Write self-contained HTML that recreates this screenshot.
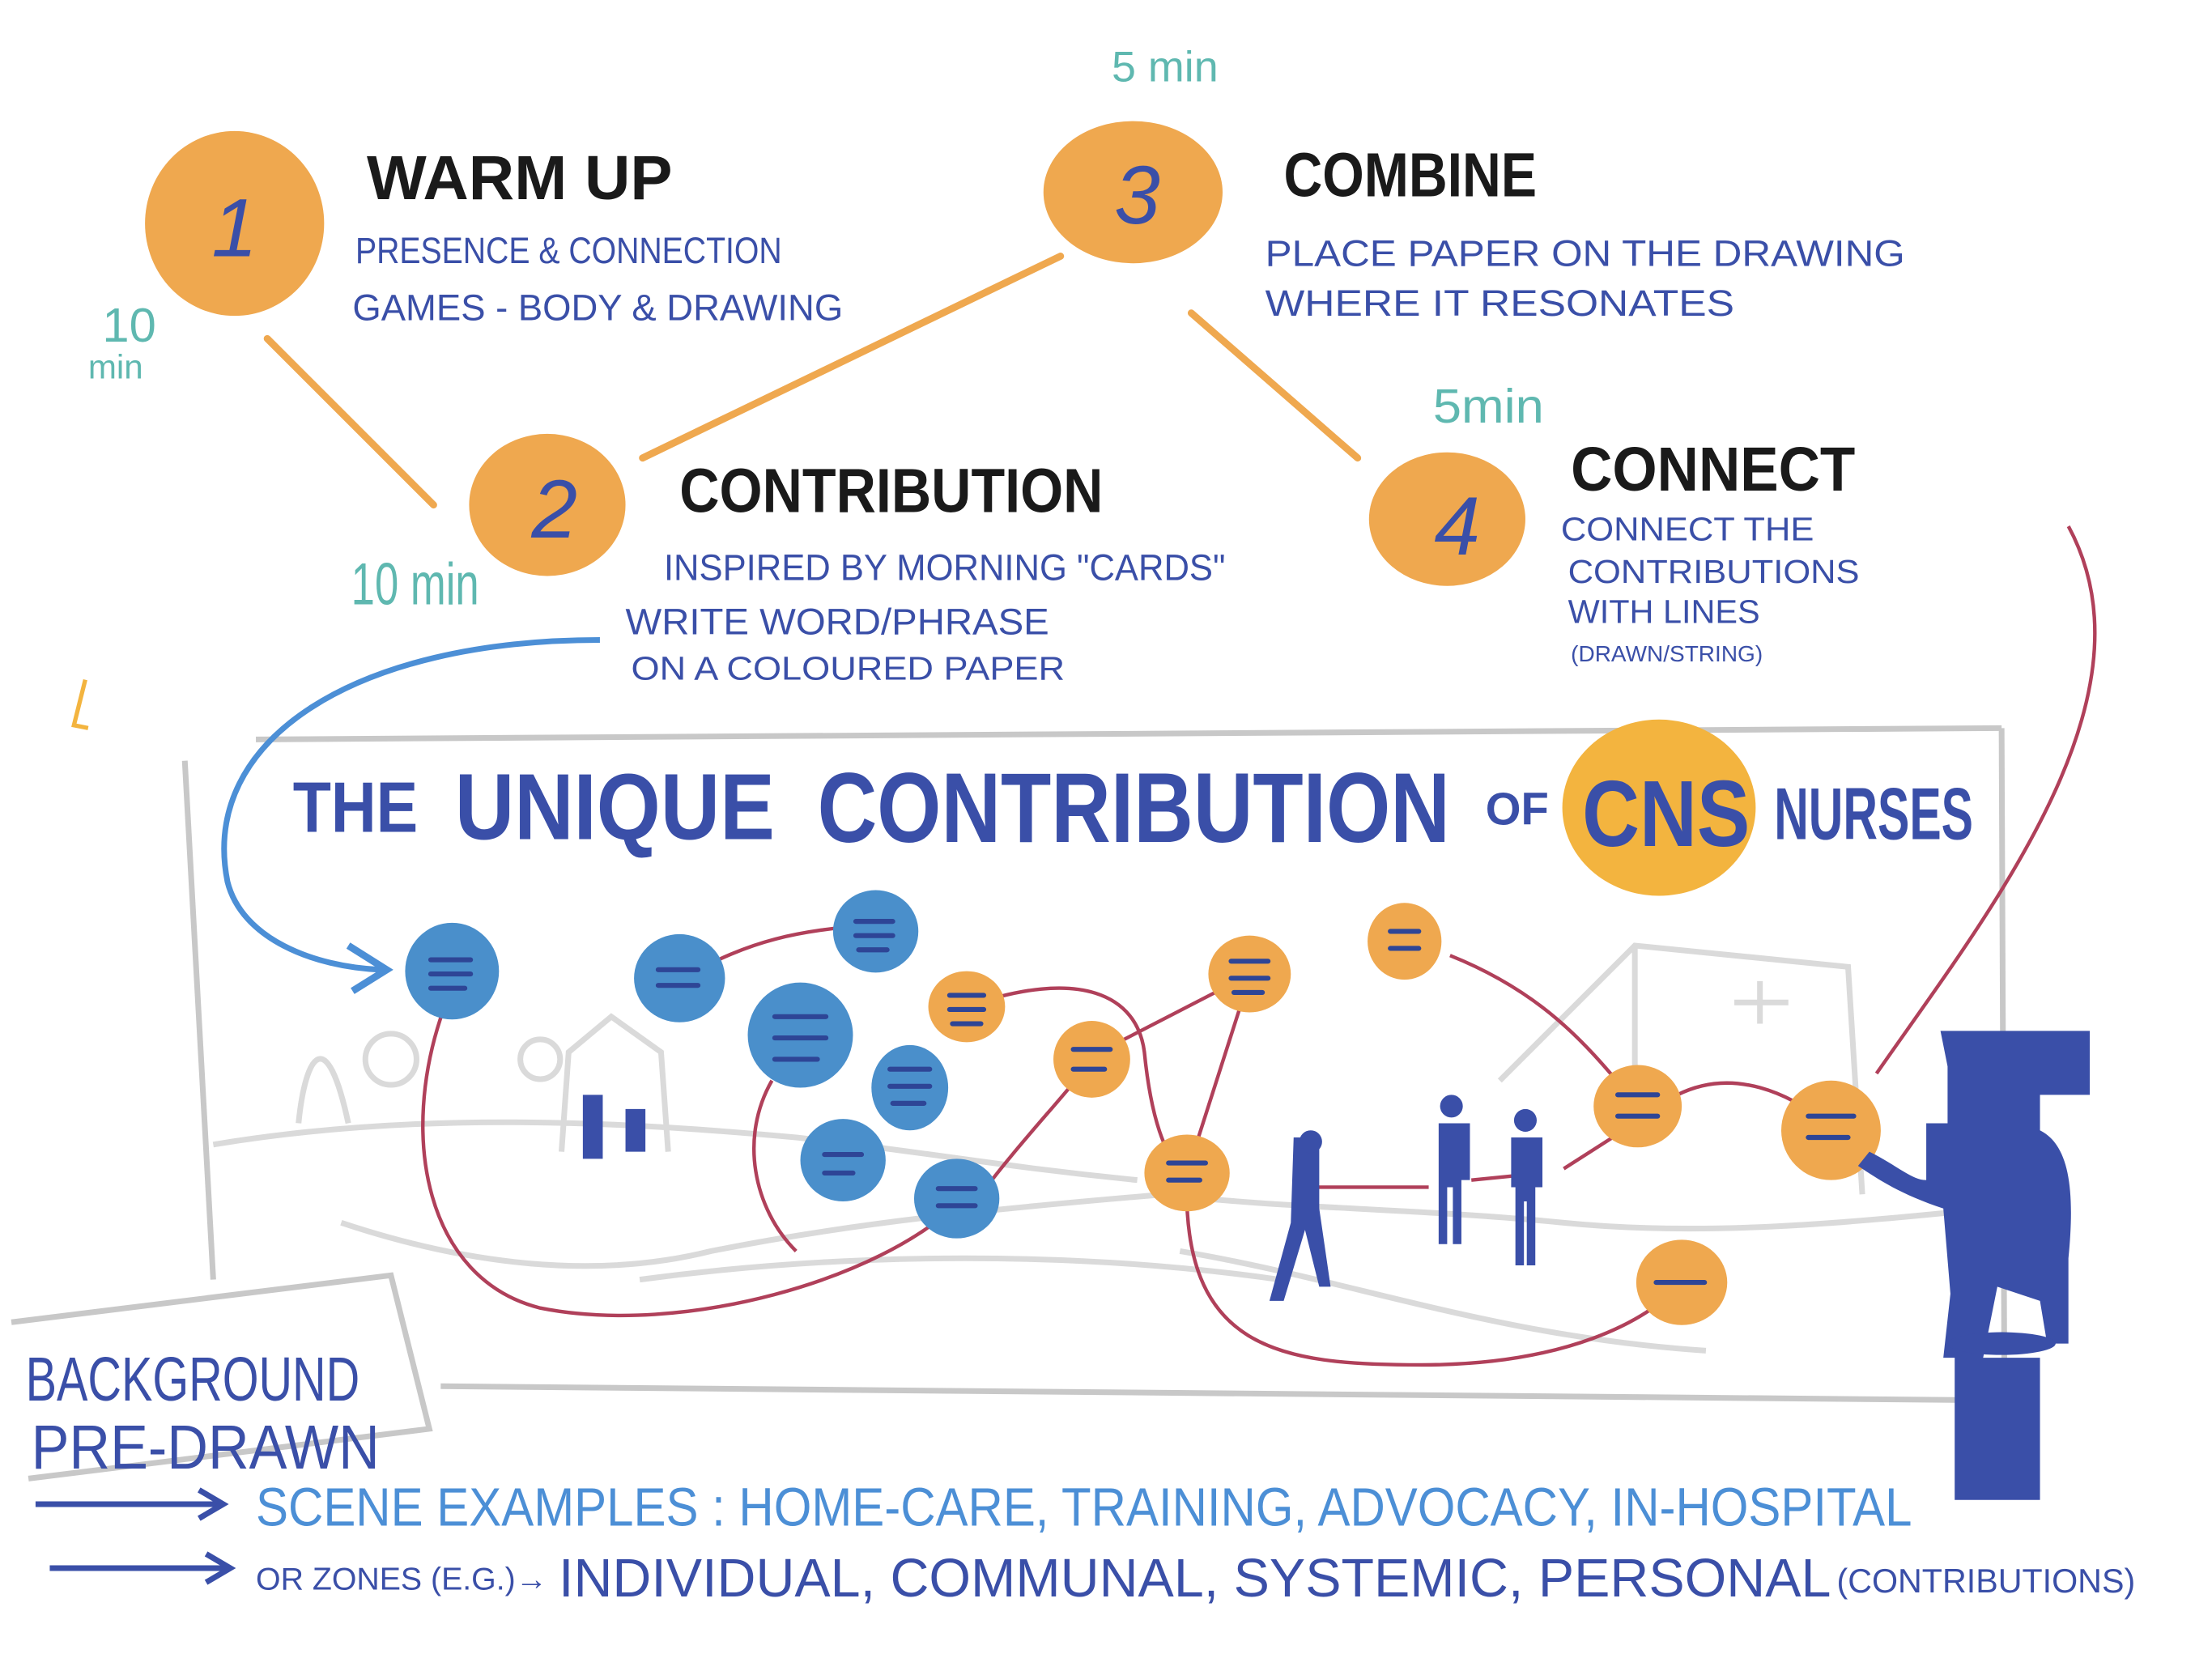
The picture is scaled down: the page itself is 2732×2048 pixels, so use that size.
<!DOCTYPE html>
<html><head><meta charset="utf-8"><style>
html,body{margin:0;padding:0;background:#fff}
svg{display:block}
text{font-family:"Liberation Sans",sans-serif}
</style></head><body>
<svg width="2732" height="2048" viewBox="0 0 1556 1166" xmlns="http://www.w3.org/2000/svg">
<rect width="1556" height="1166" fill="#fff"/>
<!-- connectors between steps -->
<g stroke="#EFA84F" stroke-width="5" stroke-linecap="round" fill="none">
<line x1="188" y1="238" x2="305" y2="355"/>
<line x1="452" y1="322" x2="746" y2="180"/>
<line x1="838" y1="220" x2="955" y2="322"/>
</g>
<!-- step circles -->
<g fill="#EFA84F">
<ellipse cx="165" cy="157" rx="63" ry="65"/>
<ellipse cx="385" cy="355" rx="55" ry="50"/>
<ellipse cx="797" cy="135" rx="63" ry="50"/>
<ellipse cx="1018" cy="365" rx="55" ry="47"/>
</g>
<g fill="#3A4FA8" font-size="58" text-anchor="middle" font-style="italic">
<text x="165" y="180">1</text><text x="390" y="378">2</text><text x="800" y="157">3</text><text x="1025" y="390">4</text>
</g>
<!-- headings -->
<g fill="#1a1a1a" font-weight="bold" font-size="44" font-family="Liberation Sans Narrow,Liberation Sans,sans-serif">
<text x="258" y="140" textLength="215" lengthAdjust="spacingAndGlyphs">WARM UP</text>
<text x="478" y="360" textLength="298" lengthAdjust="spacingAndGlyphs">CONTRIBUTION</text>
<text x="903" y="138" textLength="178" lengthAdjust="spacingAndGlyphs">COMBINE</text>
<text x="1105" y="345" textLength="200" lengthAdjust="spacingAndGlyphs">CONNECT</text>
</g>
<g fill="#3A4FA8" font-size="26">
<text x="250" y="185" textLength="300" lengthAdjust="spacingAndGlyphs">PRESENCE &amp; CONNECTION</text>
<text x="248" y="225" textLength="345" lengthAdjust="spacingAndGlyphs">GAMES - BODY &amp; DRAWING</text>
<text x="467" y="408" textLength="395" lengthAdjust="spacingAndGlyphs">INSPIRED BY MORNING "CARDS"</text>
<text x="440" y="446" textLength="298" lengthAdjust="spacingAndGlyphs">WRITE WORD/PHRASE</text>
<text x="444" y="478" textLength="305" lengthAdjust="spacingAndGlyphs" font-size="23">ON A COLOURED PAPER</text>
<text x="890" y="187" textLength="450" lengthAdjust="spacingAndGlyphs">PLACE PAPER ON THE DRAWING</text>
<text x="890" y="222" textLength="330" lengthAdjust="spacingAndGlyphs">WHERE IT RESONATES</text>
<text x="1098" y="380" textLength="178" lengthAdjust="spacingAndGlyphs" font-size="23">CONNECT THE</text>
<text x="1103" y="410" textLength="205" lengthAdjust="spacingAndGlyphs" font-size="23">CONTRIBUTIONS</text>
<text x="1103" y="438" textLength="135" lengthAdjust="spacingAndGlyphs" font-size="23">WITH LINES</text>
<text x="1105" y="465" textLength="135" lengthAdjust="spacingAndGlyphs" font-size="16">(DRAWN/STRING)</text>
</g>
<!-- times -->
<g fill="#5FB8B0">
<text x="782" y="57" font-size="30" textLength="75" lengthAdjust="spacingAndGlyphs">5 min</text>
<text x="72" y="240" font-size="34">10</text>
<text x="62" y="266" font-size="24">min</text>
<text x="247" y="425" font-size="42" textLength="90" lengthAdjust="spacingAndGlyphs">10 min</text>
<text x="1008" y="297" font-size="34" textLength="78" lengthAdjust="spacingAndGlyphs">5min</text>
</g>
<!-- frame -->
<g fill="none" stroke="#c8c8c8" stroke-width="4">
<line x1="180" y1="520" x2="1408" y2="512"/>
<line x1="1408" y1="512" x2="1410" y2="985"/>
<line x1="310" y1="975" x2="1410" y2="985"/>
<line x1="130" y1="535" x2="150" y2="900"/>
<polyline points="8,930 275,897 302,1005 20,1040"/>
</g>
<!-- landscape sketch -->
<g fill="none" stroke="#dadada" stroke-width="4">
<path d="M150 805 C300 780 450 790 560 800 C650 810 700 820 800 830"/>
<path d="M240 860 C330 890 420 900 500 880 C600 860 700 850 820 840"/>
<path d="M450 900 C600 880 760 880 900 900"/>
<path d="M820 840 C900 850 1000 850 1100 860 C1200 870 1300 860 1400 850"/>
<path d="M830 880 C950 900 1050 940 1200 950"/>
<path d="M210 790 C215 740 230 720 245 790"/>
<path d="M395 810 L400 740 L430 715 L465 740 L470 810"/>
<path d="M1055 760 L1150 665 L1300 680 L1310 840"/>
<path d="M1150 665 L1150 800"/>
<line x1="1238" y1="690" x2="1238" y2="720"/><line x1="1220" y1="705" x2="1258" y2="705"/>
<circle cx="275" cy="745" r="18"/><circle cx="380" cy="745" r="14"/>
</g>
<!-- title -->
<ellipse cx="1167" cy="568" rx="68" ry="62" fill="#F3B43F"/>
<g fill="#3A4FA8" font-weight="bold">
<text x="206" y="585" font-size="50" textLength="88" lengthAdjust="spacingAndGlyphs">THE</text>
<text x="320" y="590" font-size="66" textLength="225" lengthAdjust="spacingAndGlyphs">UNIQUE</text>
<text x="575" y="592" font-size="70" textLength="445" lengthAdjust="spacingAndGlyphs">CONTRIBUTION</text>
<text x="1045" y="580" font-size="32">OF</text>
<text x="1113" y="595" font-size="66" textLength="118" lengthAdjust="spacingAndGlyphs">CNS</text>
<text x="1248" y="590" font-size="52" textLength="140" lengthAdjust="spacingAndGlyphs">NURSES</text>
</g>
<!-- red connections -->
<g fill="none" stroke="#B0405A" stroke-width="2.5">
<path d="M312 710 C280 800 300 900 380 920 C480 940 620 900 675 845"/>
<path d="M480 688 C530 660 560 655 615 650"/>
<path d="M543 760 C520 800 530 850 560 880"/>
<path d="M680 708 C760 680 800 700 805 740 C810 790 820 810 830 825"/>
<path d="M690 840 C720 800 750 770 768 745"/>
<path d="M783 735 L880 685"/>
<path d="M835 825 L875 700"/>
<path d="M835 825 C830 950 900 960 1000 960 C1100 960 1160 930 1185 900"/>
<path d="M920 835 L1005 835"/><path d="M1035 830 L1075 826"/>
<path d="M1100 822 L1150 790"/>
<path d="M1020 672 C1090 700 1120 740 1150 775"/>
<path d="M1180 770 C1220 750 1260 770 1285 790"/>
<path d="M1320 755 C1400 640 1520 490 1455 370"/>
</g>
<!-- blue arrow -->
<path d="M422 450 C250 450 140 520 160 620 C170 660 220 680 268 682" fill="none" stroke="#4C8FD6" stroke-width="4"/>
<path d="M245 665 L272 682 L248 697" fill="none" stroke="#4C8FD6" stroke-width="5"/>
<!-- blue blobs -->
<g fill="#4A8FCB">
<ellipse cx="318" cy="683" rx="33" ry="34"/><ellipse cx="478" cy="688" rx="32" ry="31"/>
<ellipse cx="616" cy="655" rx="30" ry="29"/><ellipse cx="563" cy="728" rx="37" ry="37"/>
<ellipse cx="640" cy="765" rx="27" ry="30"/><ellipse cx="593" cy="816" rx="30" ry="29"/>
<ellipse cx="673" cy="843" rx="30" ry="28"/>
</g>
<!-- orange blobs -->
<g fill="#EFA84F">
<ellipse cx="680" cy="708" rx="27" ry="25"/><ellipse cx="768" cy="745" rx="27" ry="27"/>
<ellipse cx="879" cy="685" rx="29" ry="27"/><ellipse cx="988" cy="662" rx="26" ry="27"/>
<ellipse cx="835" cy="825" rx="30" ry="27"/><ellipse cx="1152" cy="778" rx="31" ry="29"/>
<ellipse cx="1288" cy="795" rx="35" ry="35"/><ellipse cx="1183" cy="902" rx="32" ry="30"/>
</g>
<g stroke="#2E4596" stroke-width="3.5" stroke-linecap="round">
<path d="M303 675h28M303 685h28M303 695h24"/><path d="M463 682h28M463 693h28"/>
<path d="M602 648h26M602 658h26M604 668h20"/><path d="M545 715h36M545 730h36M545 745h30"/>
<path d="M626 752h28M626 764h28M628 776h22"/><path d="M580 812h26M580 825h20"/>
<path d="M660 836h26M660 848h26"/><path d="M668 700h24M668 710h24M670 720h20"/>
<path d="M755 738h26M755 752h22"/><path d="M866 676h26M866 688h26M868 698h20"/>
<path d="M978 655h20M978 667h20"/><path d="M822 818h26M822 830h22"/>
<path d="M1138 770h28M1138 785h28"/><path d="M1272 785h32M1272 800h28"/>
<path d="M1165 902h34"/>
</g>
<!-- people -->
<g fill="#3A4FA8">
<path d="M1365 725 h105 v45 h-35 v25 c20 10 25 40 20 90 v60 h-15 l-5 -30 -30 -10 -10 50 h40 v100 h-60 v-100 h-8 l5 -45 -5 -60 c-30 -10 -45 -20 -60 -30 l8 -10 c20 10 30 20 40 20 v-40 h15 v-40 z"/>
<ellipse cx="1408" cy="945" rx="38" ry="8"/>
<path d="M910 800h18v50l8 55h-8l-10 -40-15 50h-10l15 -55z"/><circle cx="922" cy="803" r="8"/>
<path d="M1012 790h22v40h-6v45h-6v-40h-4v40h-6z"/><circle cx="1021" cy="778" r="8"/>
<path d="M1063 800h22v35h-5v55h-6v-45h-2v45h-6v-55h-3z"/><circle cx="1073" cy="788" r="8"/>
<path d="M410 770h14v45h-14z"/><path d="M440 780h14v30h-14z"/>
</g>
<!-- bottom text -->
<g fill="#3A4FA8">
<text x="18" y="985" font-size="44" textLength="235" lengthAdjust="spacingAndGlyphs">BACKGROUND</text>
<text x="22" y="1033" font-size="44" textLength="245" lengthAdjust="spacingAndGlyphs">PRE-DRAWN</text>
<text x="180" y="1073" font-size="38" textLength="1165" lengthAdjust="spacingAndGlyphs" fill="#4C8FD6">SCENE EXAMPLES : HOME-CARE, TRAINING, ADVOCACY, IN-HOSPITAL</text>
<text x="180" y="1118" font-size="22" textLength="205" lengthAdjust="spacingAndGlyphs">OR ZONES (E.G.)→</text>
<text x="393" y="1123" font-size="38" textLength="895" lengthAdjust="spacingAndGlyphs">INDIVIDUAL, COMMUNAL, SYSTEMIC, PERSONAL</text>
<text x="1292" y="1120" font-size="24" textLength="210" lengthAdjust="spacingAndGlyphs">(CONTRIBUTIONS)</text>
</g>
<g stroke="#3A4FA8" stroke-width="4" fill="none">
<line x1="25" y1="1058" x2="155" y2="1058"/><path d="M140 1048 L157 1058 L140 1068"/>
<line x1="35" y1="1103" x2="160" y2="1103"/><path d="M145 1093 L162 1103 L145 1113"/>
</g>
<path d="M60 478 L52 510 L62 512" stroke="#F3B43F" stroke-width="3" fill="none"/>
</svg>
</body></html>
